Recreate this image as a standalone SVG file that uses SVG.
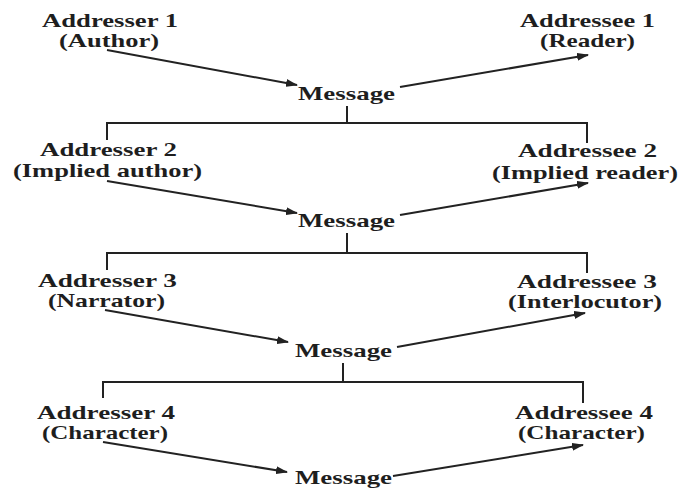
<svg xmlns="http://www.w3.org/2000/svg" width="680" height="490" viewBox="0 0 680 490">
  <style>
    .t { font-family: "Liberation Serif", "DejaVu Serif", serif; font-size: 19px; font-weight: bold; fill: #1e1e1e; }
    .ln { stroke: #222; stroke-width: 2; fill: none; }
    .ar { stroke: #222; stroke-width: 2; fill: none; marker-end: url(#head); }
  </style>
  <defs>
    <marker id="head" viewBox="0 0 12 8" refX="11" refY="4" markerWidth="12" markerHeight="8" markerUnits="userSpaceOnUse" orient="auto">
      <path d="M0,0 L12,4 L0,8 z" fill="#222"/>
    </marker>
  </defs>
  <rect width="680" height="490" fill="#fff"/>

  <!-- level 1 -->
  <g id="addresser1">
    <text class="t" x="42" y="27" textLength="136" lengthAdjust="spacingAndGlyphs">Addresser 1</text>
    <text class="t" x="59" y="47" textLength="100" lengthAdjust="spacingAndGlyphs">(Author)</text>
  </g>
  <g id="addressee1">
    <text class="t" x="520" y="27" textLength="135" lengthAdjust="spacingAndGlyphs">Addressee 1</text>
    <text class="t" x="540" y="47" textLength="95" lengthAdjust="spacingAndGlyphs">(Reader)</text>
  </g>
  <g id="message1">
    <text class="t" x="298" y="100" textLength="97" lengthAdjust="spacingAndGlyphs">Message</text>
  </g>

  <!-- level 2 -->
  <g id="addresser2">
    <text class="t" x="40" y="156" textLength="137" lengthAdjust="spacingAndGlyphs">Addresser 2</text>
    <text class="t" x="13" y="177" textLength="189" lengthAdjust="spacingAndGlyphs">(Implied author)</text>
  </g>
  <g id="addressee2">
    <text class="t" x="518" y="157" textLength="139" lengthAdjust="spacingAndGlyphs">Addressee 2</text>
    <text class="t" x="492" y="179" textLength="186" lengthAdjust="spacingAndGlyphs">(Implied reader)</text>
  </g>
  <g id="message2">
    <text class="t" x="298" y="227" textLength="97" lengthAdjust="spacingAndGlyphs">Message</text>
  </g>

  <!-- level 3 -->
  <g id="addresser3">
    <text class="t" x="38" y="287" textLength="139" lengthAdjust="spacingAndGlyphs">Addresser 3</text>
    <text class="t" x="48" y="307" textLength="117" lengthAdjust="spacingAndGlyphs">(Narrator)</text>
  </g>
  <g id="addressee3">
    <text class="t" x="517" y="288" textLength="140" lengthAdjust="spacingAndGlyphs">Addressee 3</text>
    <text class="t" x="508" y="308" textLength="154" lengthAdjust="spacingAndGlyphs">(Interlocutor)</text>
  </g>
  <g id="message3">
    <text class="t" x="295" y="357" textLength="97" lengthAdjust="spacingAndGlyphs">Message</text>
  </g>

  <!-- level 4 -->
  <g id="addresser4">
    <text class="t" x="37" y="419" textLength="138" lengthAdjust="spacingAndGlyphs">Addresser 4</text>
    <text class="t" x="42" y="439" textLength="126" lengthAdjust="spacingAndGlyphs">(Character)</text>
  </g>
  <g id="addressee4">
    <text class="t" x="515" y="419" textLength="138" lengthAdjust="spacingAndGlyphs">Addressee 4</text>
    <text class="t" x="518" y="439" textLength="127" lengthAdjust="spacingAndGlyphs">(Character)</text>
  </g>
  <g id="message4">
    <text class="t" x="295" y="484" textLength="97" lengthAdjust="spacingAndGlyphs">Message</text>
  </g>

  <g id="connectors">
    <!-- level 1 -->
    <line class="ar" x1="107" y1="50" x2="297" y2="85"/>
    <line class="ar" x1="400" y1="87" x2="588" y2="55"/>
    <path class="ln" d="M347,106 V123 M107,140 V123 H587 V143"/>
    <!-- level 2 -->
    <line class="ar" x1="107" y1="181" x2="297" y2="213"/>
    <line class="ar" x1="400" y1="215" x2="588" y2="183"/>
    <path class="ln" d="M347,233 V253 M107,270 V253 H587 V273"/>
    <!-- level 3 -->
    <line class="ar" x1="105" y1="310" x2="288" y2="342"/>
    <line class="ar" x1="397" y1="347" x2="585" y2="313"/>
    <path class="ln" d="M343,363 V382 M103,398 V382 H583 V403"/>
    <!-- level 4 -->
    <line class="ar" x1="103" y1="442" x2="287" y2="472"/>
    <line class="ar" x1="393" y1="476" x2="583" y2="445"/>
  </g>
</svg>
